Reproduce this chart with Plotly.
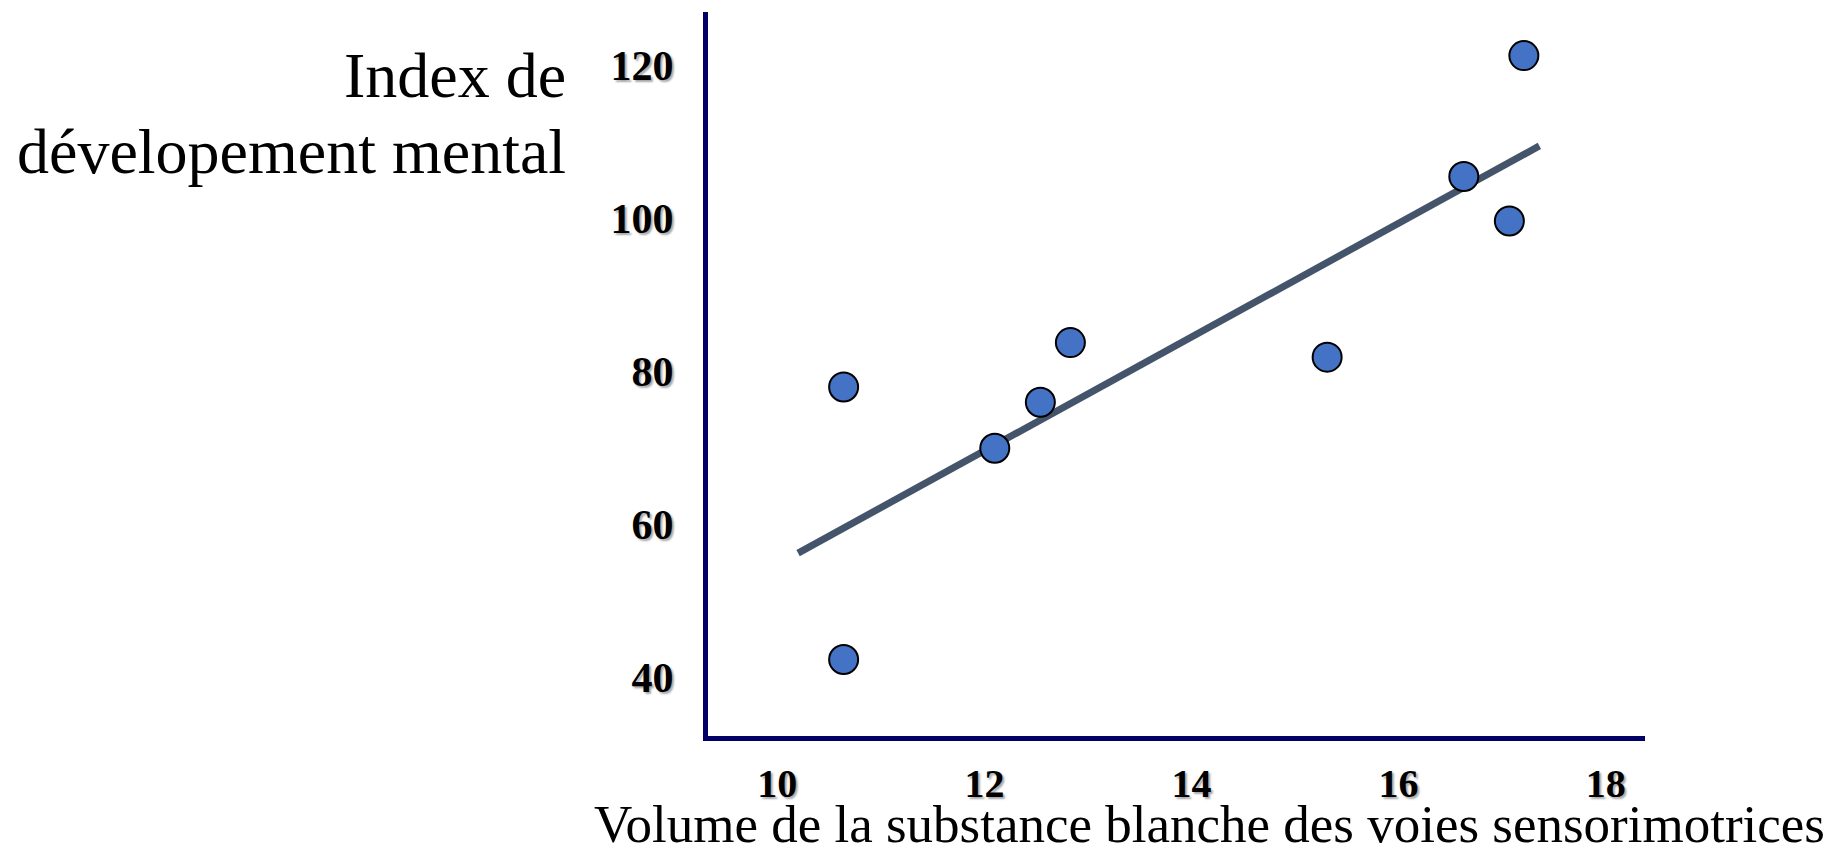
import plotly.graph_objects as go

# Data
volume = [10.64, 10.64, 12.10, 12.54, 12.83, 15.31, 16.63, 17.07, 17.21]
index_dev = [77.9, 42.3, 69.9, 75.9, 83.7, 81.8, 105.4, 99.6, 121.2]
fit_x = [10.20, 17.36]
fit_y = [56.2, 109.4]
x_ticks = [10, 12, 14, 16, 18]
y_ticks = [40, 60, 80, 100, 120]

W, H = 1842, 849
L, R, T, B = 708, 1645, 12, 736  # plot area in pixels

def px(x):
    return (x - L) / (R - L)

def py(y):
    return (B - y) / (B - T)

fig = go.Figure()
fig.add_trace(go.Scatter(x=fit_x, y=fit_y, mode="lines",
                         line=dict(color="#44546A", width=7),
                         hoverinfo="skip", showlegend=False))
fig.add_trace(go.Scatter(x=volume, y=index_dev, mode="markers",
                         marker=dict(size=29, color="#4472C4",
                                     line=dict(color="black", width=2)),
                         showlegend=False))

ytickfont = dict(family="Liberation Serif", size=42, color="black",
                 weight="bold", shadow="2px 2px 2px rgba(0,0,0,0.35)")
xtickfont = dict(family="Liberation Serif", size=40, color="black",
                 weight="bold", shadow="2px 2px 2px rgba(0,0,0,0.35)")

fig.update_layout(
    width=W, height=H,
    margin=dict(l=L, r=W - R, t=T, b=H - B, pad=0),
    paper_bgcolor="white", plot_bgcolor="white",
    xaxis=dict(range=[9.33, 18.38], tickvals=x_ticks, ticktext=[str(v) for v in x_ticks],
               showgrid=False, zeroline=False, showline=True, linecolor="#000066",
               linewidth=5, ticks="", tickfont=xtickfont, ticklabelstandoff=8),
    yaxis=dict(range=[32.3, 126.9], tickvals=y_ticks, ticktext=[str(v) for v in y_ticks],
               showgrid=False, zeroline=False, showline=True, linecolor="#000066",
               linewidth=5, ticks="", tickfont=ytickfont, ticklabelstandoff=21),
    annotations=[
        dict(text="Volume de la substance blanche des voies sensorimotrices",
             xref="paper", yref="paper", x=px(1209), y=py(824),
             xanchor="center", yanchor="middle", showarrow=False,
             font=dict(family="Liberation Serif", size=53, color="black")),
        dict(text="Index de", xref="paper", yref="paper", x=px(568), y=py(75),
             xanchor="right", yanchor="middle", showarrow=False,
             font=dict(family="Liberation Serif", size=64, color="black")),
        dict(text="dévelopement mental", xref="paper", yref="paper", x=px(568), y=py(151),
             xanchor="right", yanchor="middle", showarrow=False,
             font=dict(family="Liberation Serif", size=64, color="black")),
    ],
)

fig.write_html("out.html")
